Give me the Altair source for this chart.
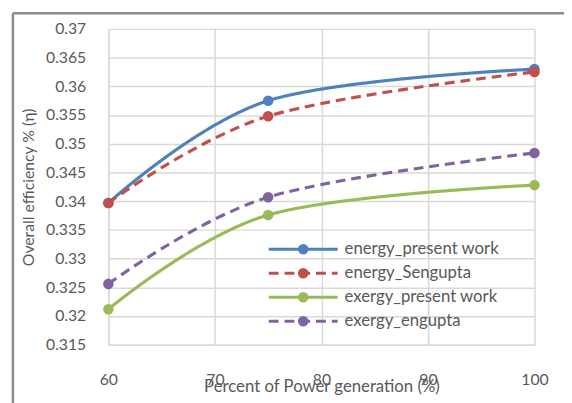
import altair as alt
import pandas as pd

x_vals = [60, 75, 100]
series_names = ["energy_present work", "energy_Sengupta", "exergy_present work", "exergy_engupta"]
energy_present = [0.3397, 0.3575, 0.3630]
energy_sengupta = [0.3397, 0.3548, 0.3625]
exergy_present = [0.3212, 0.3376, 0.3428]
exergy_sengupta = [0.3256, 0.3407, 0.3484]
colors = ["#4F81BD", "#C0504D", "#9BBB59", "#8064A2"]
dashes = [[1, 0], [10, 6], [1, 0], [10, 6]]
y_ticks = [0.315, 0.32, 0.325, 0.33, 0.335, 0.34, 0.345, 0.35, 0.355, 0.36, 0.365, 0.37]
x_ticks = [60, 70, 80, 90, 100]

rows = []
for name, vals in zip(series_names, [energy_present, energy_sengupta, exergy_present, exergy_sengupta]):
    for xv, yv in zip(x_vals, vals):
        rows.append({"series": name, "x": xv, "y": yv})
df = pd.DataFrame(rows)
leg = pd.DataFrame({"series": series_names, "idx": list(range(4))})

FONT = "Lato"
GRAY = "#595959"
color = alt.Color("series:N", scale=alt.Scale(domain=series_names, range=colors), legend=None)
dash = alt.StrokeDash("series:N", scale=alt.Scale(domain=series_names, range=dashes), legend=None)
xscale = alt.Scale(domain=[60, 100], nice=False)
yscale = alt.Scale(domain=[0.315, 0.37], nice=False, zero=False)

xenc = alt.X("x:Q", scale=xscale,
             axis=alt.Axis(values=x_ticks, title="Percent of Power generation (%)",
                           grid=True, gridColor="#D9D9D9", gridWidth=1.5,
                           domainColor="#D9D9D9", domainWidth=1.5, ticks=False,
                           labelOverlap=False, labelFlush=False,
                           labelPadding=27, labelFontSize=16, labelColor=GRAY, labelFont=FONT,
                           titleFont=FONT, titleFontSize=17, titleColor=GRAY, titleFontWeight="normal",
                           titleY=34, titleBaseline="top"))
yenc = alt.Y("y:Q", scale=yscale,
             axis=alt.Axis(values=y_ticks, format=".3~f", title="Overall efficiency %  (η)",
                           grid=True, gridColor="#D9D9D9", gridWidth=1.5,
                           domainColor="#D9D9D9", domainWidth=1.5, ticks=False,
                           labelOverlap=False, labelFlush=False,
                           labelPadding=23, labelFontSize=16, labelColor=GRAY, labelFont=FONT,
                           titleFont=FONT, titleFontSize=16, titleColor=GRAY, titleFontWeight="normal",
                           titleX=-73, titleBaseline="bottom"))

lines = alt.Chart(df).mark_line(interpolate="cardinal", strokeWidth=3.2).encode(
    x=xenc, y=yenc, color=color, strokeDash=dash, detail="series:N")
pts = alt.Chart(df).mark_circle(size=115, opacity=1).encode(
    x="x:Q",
    y=alt.Y("y:Q", scale=yscale, axis=None), color=color)

ly = alt.Y("idx:Q", scale=alt.Scale(domain=[0, 3], range=[224, 297]), axis=None)
leg_rule = alt.Chart(leg).mark_rule(strokeWidth=3).encode(
    x=alt.value(163), x2=alt.value(233), y=ly, color=color, strokeDash=dash)
leg_pt = alt.Chart(leg).mark_circle(size=115, opacity=1).encode(
    x=alt.value(198), y=ly, color=color)
leg_txt = alt.Chart(leg).mark_text(align="left", baseline="middle", font=FONT, fontSize=17, color=GRAY).encode(
    x=alt.value(240), y=ly, text="series:N")

frame_df = pd.DataFrame({"k": [0]})
frame_left = alt.Chart(frame_df).mark_rule(color="#8C8C8C", strokeWidth=2.5).encode(
    x=alt.value(-97), y=alt.value(-16), y2=alt.value(400))
frame_top = alt.Chart(frame_df).mark_rule(color="#8C8C8C", strokeWidth=2.5).encode(
    x=alt.value(-97), x2=alt.value(480), y=alt.value(-16))

chart = alt.layer(lines, pts, leg_rule, leg_pt, leg_txt, frame_left, frame_top).resolve_scale(
    y="independent").properties(
    width=433, height=321,
    padding={"left": 102, "top": 18, "right": 30, "bottom": 60},
    autosize=alt.AutoSizeParams(type="none"),
).configure_view(stroke=None)

chart.save("out.html", embed_options={"renderer": "svg", "actions": False})
